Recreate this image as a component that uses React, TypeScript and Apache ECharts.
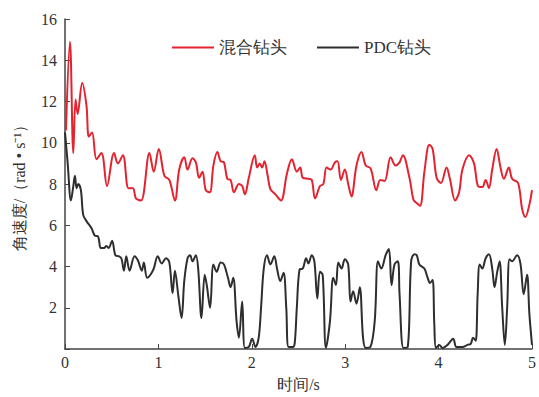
import { useEffect, useRef } from 'react';
import * as echarts from 'echarts';

const legendNames = ['混合钻头', 'PDC钻头'];
const xTickLabels = [0, 1, 2, 3, 4, 5];

const hybridTime = [0.01, 0.053, 0.089, 0.113, 0.135, 0.184, 0.23, 0.255, 0.29, 0.337, 0.39, 0.45, 0.525, 0.567, 0.62, 0.68, 0.727, 0.76, 0.815, 0.904, 0.95, 1.004, 1.064, 1.117, 1.177, 1.223,
  1.277, 1.312, 1.365, 1.401, 1.436, 1.472, 1.507, 1.55, 1.589, 1.631, 1.667, 1.702, 1.738, 1.773, 1.809, 1.862, 1.897, 1.926, 1.968, 2.032, 2.057, 2.085, 2.11, 2.135, 2.17, 2.199, 2.252, 2.312, 2.376, 2.429, 2.482,
  2.518, 2.546, 2.606, 2.642, 2.677, 2.73, 2.766, 2.801, 2.844, 2.89, 2.918, 2.954, 2.996, 3.032, 3.067, 3.121, 3.174, 3.22, 3.273, 3.333, 3.376, 3.422, 3.486, 3.539, 3.582, 3.617, 3.688, 3.73,
  3.759, 3.801, 3.848, 3.901, 3.936, 3.979, 4.025, 4.085, 4.121, 4.177, 4.22, 4.255, 4.326, 4.379, 4.422, 4.468, 4.504, 4.539, 4.574, 4.621, 4.663, 4.699, 4.752, 4.787, 4.851, 4.894, 4.929, 4.972, 5.0];
const hybridSpeed = [10.6, 14.9, 9.5, 12.1, 11.4, 12.9, 11.8, 10.3, 10.5, 9.2, 9.5, 7.9, 9.5, 9.0, 9.4, 7.8, 7.8, 7.3, 7.2, 9.5, 8.6, 9.7, 8.4, 8.2, 7.2, 8.7,
  9.3, 8.7, 9.25, 9.05, 8.3, 8.6, 7.7, 7.6, 8.9, 9.55, 9.1, 9.05, 8.25, 8.2, 7.6, 8.0, 7.9, 7.5, 8.3, 9.4, 8.8, 9.0, 8.8, 9.1, 8.4, 7.75, 7.5, 7.2, 8.5, 9.2, 8.6,
  8.8, 8.3, 8.25, 8.2, 7.3, 7.9, 8.0, 8.8, 8.7, 9.05, 9.1, 8.2, 8.7, 8.0, 7.4, 8.9, 9.55, 8.9, 8.75, 7.7, 8.2, 8.15, 9.3, 8.9, 9.05, 9.4, 8.3, 7.25,
  7.1, 6.95, 8.6, 9.9, 9.7, 8.3, 8.05, 8.8, 8.25, 7.2, 7.6, 8.7, 9.4, 9.0, 7.9, 7.85, 8.2, 7.8, 8.7, 9.7, 8.8, 8.25, 8.8, 8.25, 8.05, 6.8, 6.4, 7.0, 7.7];

const pdcTime = [0, 0.028, 0.064, 0.089, 0.106, 0.124, 0.142, 0.17, 0.195, 0.23, 0.284, 0.319, 0.355, 0.383, 0.418, 0.443, 0.468, 0.504, 0.539, 0.574, 0.603, 0.631, 0.656, 0.691, 0.745, 0.78, 0.823, 0.844, 0.879, 0.915, 0.95, 0.993, 1.035, 1.082, 1.117, 1.152, 1.177, 1.213,
  1.248, 1.277, 1.312, 1.34, 1.365, 1.401, 1.426, 1.461, 1.496, 1.518, 1.553, 1.589, 1.624, 1.667, 1.702, 1.745, 1.773, 1.801, 1.837, 1.862, 1.897, 1.926, 1.968, 2.004, 2.039, 2.074, 2.099, 2.128, 2.163, 2.199, 2.241, 2.27, 2.305, 2.34, 2.369, 2.394, 2.44,
  2.46, 2.482, 2.511, 2.546, 2.582, 2.606, 2.642, 2.67, 2.702, 2.73, 2.759, 2.794, 2.837, 2.872, 2.901, 2.926, 2.961, 2.996, 3.032, 3.057, 3.085, 3.121, 3.156, 3.191, 3.22, 3.27, 3.316, 3.351, 3.387, 3.433, 3.468, 3.496, 3.528, 3.564, 3.582, 3.624, 3.67, 3.706, 3.741,
  3.766, 3.794, 3.848, 3.883, 3.908, 3.936, 3.954, 3.972, 4.007, 4.043, 4.096, 4.156, 4.191, 4.255, 4.309, 4.344, 4.369, 4.397, 4.418, 4.44, 4.468, 4.504, 4.539, 4.574, 4.599, 4.628, 4.653, 4.681, 4.709, 4.734, 4.759, 4.787, 4.84, 4.876, 4.911, 4.947, 4.972, 5.0];
const pdcSpeed = [10.5, 9.05, 7.2, 7.9, 8.4, 7.8, 8.0, 7.7, 6.5, 6.2, 5.85, 5.5, 5.45, 4.9, 4.9, 5.0, 4.9, 5.25, 4.55, 4.5, 4.4, 3.8, 4.5, 3.8, 4.5, 4.3, 3.8, 4.2, 3.45, 3.6, 3.9, 4.5, 4.15, 4.4, 4.2, 2.7, 3.8, 2.6,
  1.5, 3.3, 4.4, 4.55, 4.25, 4.55, 3.9, 1.5, 3.6, 3.1, 2.0, 4.1, 3.75, 4.2, 4.1, 3.45, 3.0, 3.45, 1.35, 0.55, 2.3, 0.05, 0.1, 0.5, 0.1, 0.55, 2.0, 3.9, 4.55, 4.1, 4.5, 3.9, 3.3, 3.7, 2.0, 0.1, 0.1,
  0.3, 2.0, 3.85, 3.9, 4.4, 4.15, 4.55, 4.25, 2.45, 3.75, 3.6, 0.05, 1.35, 3.45, 3.1, 4.2, 3.9, 4.35, 4.1, 2.3, 2.8, 2.2, 3.0, 0.55, 0.05, 0.1, 1.35, 4.25, 3.9, 4.55, 4.85, 3.1, 4.1, 4.25, 2.65, 0.05, 0.1, 4.25, 4.6,
  4.55, 4.1, 3.9, 3.45, 3.2, 3.35, 1.2, 0.05, 0.2, 0.05, 0.2, 0.5, 0.1, 0.1, 0.2, 0.25, 0.55, 0.4, 2.65, 4.1, 3.9, 4.4, 4.6, 3.9, 3.0, 3.75, 4.25, 2.0, 0.2, 2.0, 4.35, 4.25, 4.55, 4.15, 2.65, 3.6, 1.7, 0.2];

const serif = 'serif';

export default function App() {
  const ref = useRef<HTMLDivElement>(null);
  useEffect(() => {
    if (!ref.current) return;
    const chart = echarts.init(ref.current, null, { renderer: 'svg' });
    const zip = (t: number[], v: number[]) => t.map((x, i) => [x, v[i]]);
    chart.setOption({
      animation: false,
      backgroundColor: '#fff',
      grid: { left: 65, right: 4, top: 19, bottom: 46 },
      legend: {
        left: 167,
        top: 34,
        icon: 'rect',
        itemWidth: 42,
        itemHeight: 2,
        itemGap: 30,
        textStyle: { fontSize: 17, color: '#333', fontFamily: serif },
        data: legendNames,
      },
      xAxis: {
        type: 'value',
        min: xTickLabels[0],
        max: xTickLabels[xTickLabels.length - 1],
        interval: 1,
        name: '时间/s',
        nameLocation: 'middle',
        nameGap: 27,
        nameTextStyle: { fontSize: 16, color: '#333', fontFamily: serif },
        axisLine: { lineStyle: { color: '#444', width: 1.5 } },
        axisTick: { inside: true, length: 5, lineStyle: { color: '#444' } },
        axisLabel: { fontSize: 16, color: '#333', fontFamily: serif, margin: 5 },
        splitLine: { show: false },
      },
      yAxis: {
        type: 'value',
        min: 0,
        max: 16,
        interval: 2,
        name: '角速度/（rad • s⁻¹）',
        nameLocation: 'middle',
        nameGap: 38,
        nameTextStyle: { fontSize: 16, color: '#333', fontFamily: serif },
        axisLine: { show: true, lineStyle: { color: '#444', width: 1.5 } },
        axisTick: { show: true, inside: true, length: 5, lineStyle: { color: '#444' } },
        axisLabel: {
          fontSize: 16,
          color: '#333',
          fontFamily: serif,
          margin: 8,
          formatter: (v: number) => (v === 0 ? '' : String(v)),
        },
        splitLine: { show: false },
      },
      series: [
        {
          name: legendNames[0],
          type: 'line',
          data: zip(hybridTime, hybridSpeed),
          symbol: 'none',
          smooth: 0.35,
          lineStyle: { color: '#e3232f', width: 2 },
          itemStyle: { color: '#e3232f' },
        },
        {
          name: legendNames[1],
          type: 'line',
          data: zip(pdcTime, pdcSpeed),
          symbol: 'none',
          smooth: 0.35,
          lineStyle: { color: '#2e2e2e', width: 2 },
          itemStyle: { color: '#2e2e2e' },
        },
      ],
    });
    return () => chart.dispose();
  }, []);
  return (
    <div
      ref={ref}
      style={{ position: 'fixed', left: 0, top: 0, width: 539, height: 397, background: '#fff' }}
    />
  );
}
